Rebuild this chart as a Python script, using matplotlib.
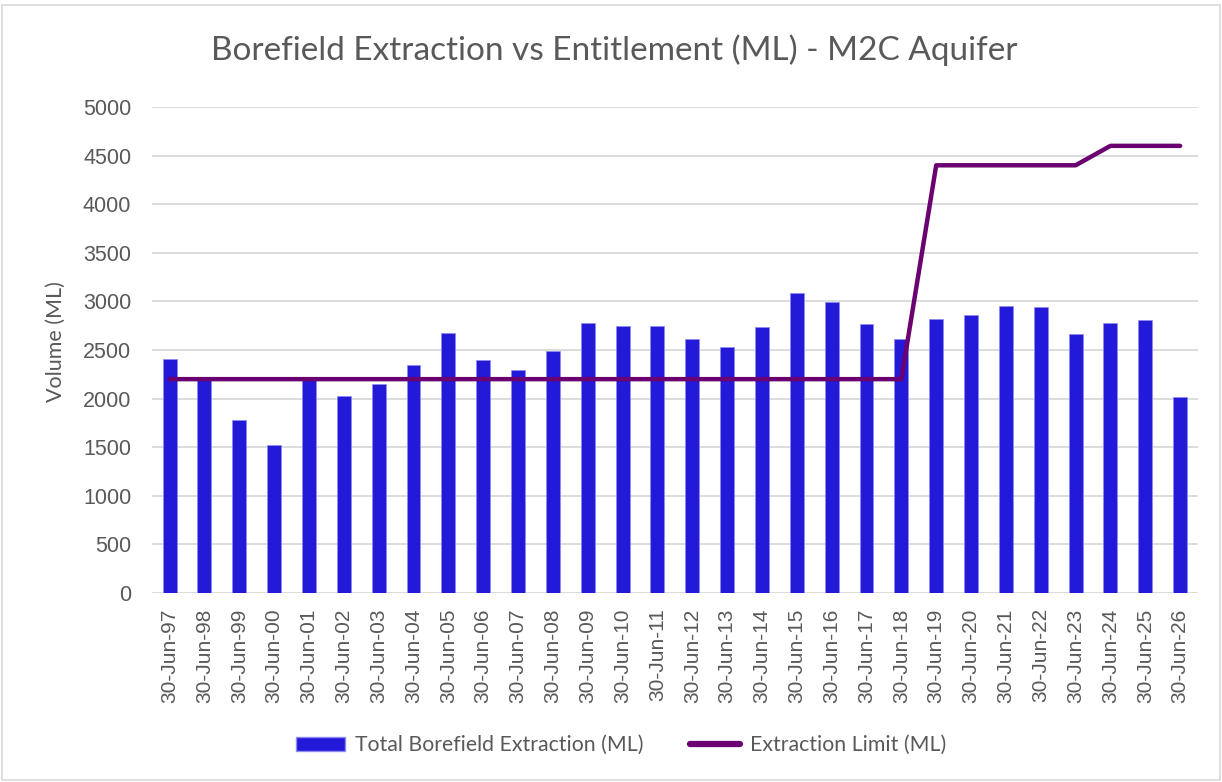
import matplotlib
matplotlib.use("Agg")
import matplotlib.pyplot as plt
from matplotlib.lines import Line2D
from matplotlib.patches import Patch, Rectangle

categories = ["30-Jun-97", "30-Jun-98", "30-Jun-99", "30-Jun-00", "30-Jun-01", "30-Jun-02",
              "30-Jun-03", "30-Jun-04", "30-Jun-05", "30-Jun-06", "30-Jun-07", "30-Jun-08",
              "30-Jun-09", "30-Jun-10", "30-Jun-11", "30-Jun-12", "30-Jun-13", "30-Jun-14",
              "30-Jun-15", "30-Jun-16", "30-Jun-17", "30-Jun-18", "30-Jun-19", "30-Jun-20",
              "30-Jun-21", "30-Jun-22", "30-Jun-23", "30-Jun-24", "30-Jun-25", "30-Jun-26"]
extraction = [2410, 2200, 1780, 1525, 2210, 2025, 2155, 2345, 2670, 2400, 2295, 2485,
              2780, 2750, 2750, 2615, 2535, 2735, 3085, 2995, 2765, 2615, 2820, 2860,
              2955, 2940, 2660, 2780, 2805, 2015]
limit = [2200] * 22 + [4400] * 5 + [4600] * 3
yticks = [0, 500, 1000, 1500, 2000, 2500, 3000, 3500, 4000, 4500, 5000]

title_font = ["Lato", "DejaVu Sans"]
tick_font = ["Liberation Sans", "DejaVu Sans"]
gray = "#595959"

fig = plt.figure(figsize=(12.22, 7.82), dpi=100)
fig.patches.append(Rectangle((0.002, 0.002), 0.996, 0.992, transform=fig.transFigure,
                             fill=False, edgecolor="#D9D9D9", linewidth=1.2))
ax = fig.add_axes([0.1245, 0.2417, 0.8555, 0.6215])

x = list(range(len(categories)))
ax.bar(x, extraction, width=0.4, color="#2219D9", edgecolor="#8F8BF0", linewidth=0.5,
       zorder=2, label="Total Borefield Extraction (ML)")
ax.plot(x, limit, color="#6B0070", linewidth=3.2, solid_capstyle="round", zorder=3,
        label="Extraction Limit (ML)")

ax.set_xlim(-0.5, len(categories) - 0.5)
ax.set_ylim(0, 5000)
ax.set_yticks(yticks)
ax.set_yticklabels([str(v) for v in yticks], fontfamily=tick_font, fontsize=15.5, color=gray)
ax.set_xticks(x)
ax.set_xticklabels(categories, rotation=90, fontfamily=tick_font, fontsize=15, color=gray)
ax.tick_params(axis="y", length=0, pad=15)
ax.tick_params(axis="x", length=0, pad=11)
ax.grid(axis="y", color="#D9D9D9", linewidth=1.3, zorder=0)
ax.set_axisbelow(True)
for s in ax.spines.values():
    s.set_visible(False)

ax.set_ylabel("Volume (ML)", fontfamily=title_font, fontsize=15.5, color=gray)
ax.yaxis.set_label_coords(-0.083, 0.518)
fig.text(0.503, 0.936, "Borefield Extraction vs Entitlement (ML) - M2C Aquifer",
         ha="center", va="center", fontfamily=title_font, fontsize=24, color=gray)

handles = [Patch(facecolor="#2219D9", edgecolor="#8F8BF0"),
           Line2D([0], [0], color="#6B0070", linewidth=4.5, solid_capstyle="round")]
labels = ["Total Borefield Extraction (ML)", "Extraction Limit (ML)"]
fig.legend(handles, labels, loc="center", bbox_to_anchor=(0.508, 0.047), ncol=2,
           frameon=False, prop={"family": title_font, "size": 15.3}, labelcolor=gray,
           handlelength=2.35, handleheight=0.65, handletextpad=0.45, columnspacing=2.2)

fig.savefig("out.png", dpi=100)
